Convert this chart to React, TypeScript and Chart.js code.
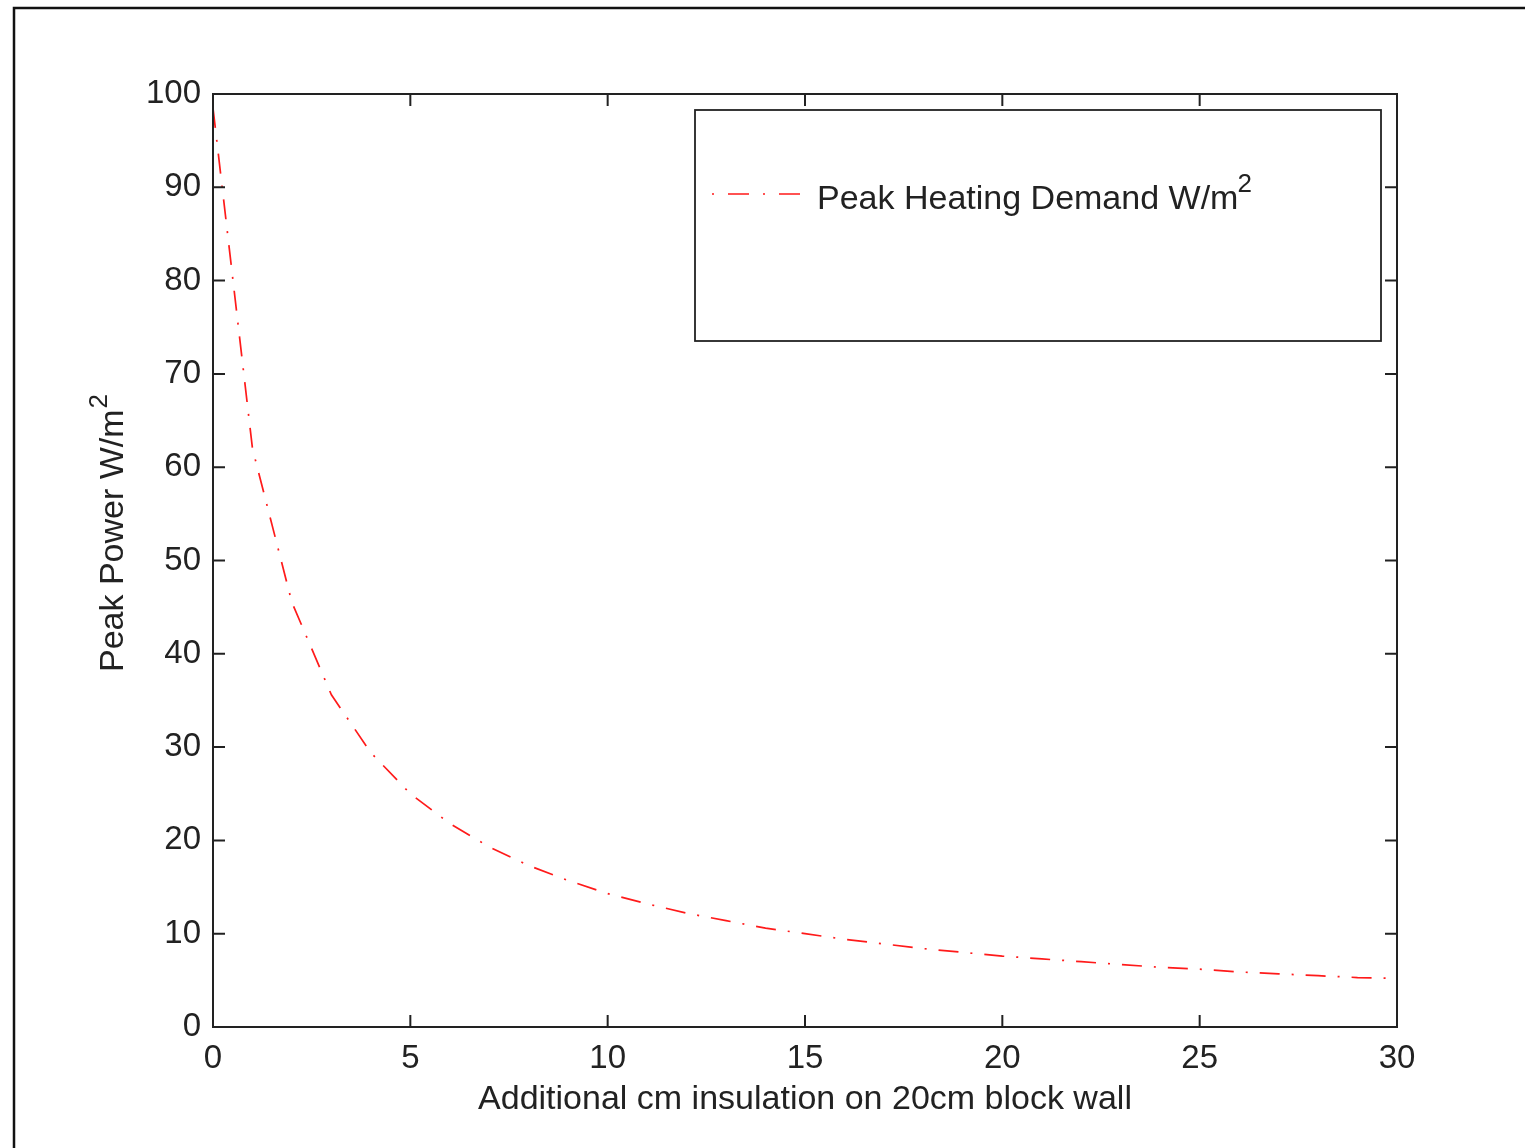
import React, { useEffect, useRef } from "react";
import { Chart, registerables } from "chart.js";

Chart.register(...registerables);

// ---- data ----
const insulationCm = [0, 1, 2, 3, 4, 5, 6, 7, 8, 9, 10, 11, 12, 13, 14, 15, 16, 17, 18, 19, 20, 21, 22, 23, 24, 25, 26, 27, 28, 29, 30];
const peakHeatingDemand = [98.5, 62, 45.5, 35.6, 29.4, 25, 21.8, 19.3, 17.3, 15.7, 14.3, 13.2, 12.2, 11.4, 10.6, 10.0, 9.4, 8.9, 8.4, 8.0, 7.6, 7.3, 7.0, 6.7, 6.4, 6.2, 5.9, 5.7, 5.5, 5.3, 5.2];
const xTicks = [0, 5, 10, 15, 20, 25, 30];
const yTicks = [0, 10, 20, 30, 40, 50, 60, 70, 80, 90, 100];
const xAxisTitle = "Additional cm insulation on 20cm block wall";
const yAxisTitle = "Peak Power W/m";
const legendLabel = "Peak Heating Demand W/m";
const superscript = "2";

const FONT = '"Liberation Sans", Arial, Helvetica, sans-serif';
const INK = "#222222";
const RED = "#ff1a1a";

const decorPlugin = {
  id: "matlabDecor",
  afterDraw(chart: any) {
    const ctx = chart.ctx as CanvasRenderingContext2D;
    const xs = chart.scales.x;
    const ys = chart.scales.y;
    const { left, right, top, bottom } = chart.chartArea;
    ctx.save();

    // outer figure frame
    ctx.strokeStyle = "#111111";
    ctx.lineWidth = 2.5;
    ctx.beginPath();
    ctx.moveTo(14, chart.height);
    ctx.lineTo(14, 8);
    ctx.lineTo(chart.width, 8);
    ctx.stroke();

    // axes box
    ctx.strokeStyle = INK;
    ctx.lineWidth = 2;
    ctx.strokeRect(left, top, right - left, bottom - top);

    // inward ticks
    const tl = 12;
    ctx.beginPath();
    xTicks.forEach((v) => {
      const px = xs.getPixelForValue(v);
      ctx.moveTo(px, bottom);
      ctx.lineTo(px, bottom - tl);
      ctx.moveTo(px, top);
      ctx.lineTo(px, top + tl);
    });
    yTicks.forEach((v) => {
      const py = ys.getPixelForValue(v);
      ctx.moveTo(left, py);
      ctx.lineTo(left + tl, py);
      ctx.moveTo(right, py);
      ctx.lineTo(right - tl, py);
    });
    ctx.stroke();

    // legend box
    ctx.lineWidth = 1.8;
    ctx.strokeStyle = INK;
    ctx.strokeRect(695, 110, 1381 - 695, 341 - 110);

    // legend line sample
    ctx.strokeStyle = RED;
    ctx.lineWidth = 1.7;
    ctx.setLineDash([2, 14, 21, 14]);
    ctx.beginPath();
    ctx.moveTo(712, 194);
    ctx.lineTo(800, 194);
    ctx.stroke();
    ctx.setLineDash([]);

    // legend text
    ctx.fillStyle = INK;
    ctx.textAlign = "left";
    ctx.textBaseline = "alphabetic";
    ctx.font = `34px ${FONT}`;
    ctx.fillText(legendLabel, 817, 209);
    const lw = ctx.measureText(legendLabel).width;
    ctx.font = `26px ${FONT}`;
    ctx.fillText(superscript, 817 + lw - 1, 192);

    // x axis title
    ctx.font = `34px ${FONT}`;
    ctx.textAlign = "center";
    ctx.fillText(xAxisTitle, (left + right) / 2, 1109);

    // y axis title (rotated)
    ctx.translate(123, 672);
    ctx.rotate(-Math.PI / 2);
    ctx.textAlign = "left";
    ctx.font = `34px ${FONT}`;
    ctx.fillText(yAxisTitle, 0, 0);
    const yw = ctx.measureText(yAxisTitle).width;
    ctx.font = `26px ${FONT}`;
    ctx.fillText(superscript, yw + 1, -16);

    ctx.restore();
  },
};

export default function App() {
  const canvasRef = useRef<HTMLCanvasElement | null>(null);

  useEffect(() => {
    document.body.style.margin = "0";
    const canvas = canvasRef.current;
    if (!canvas) return;
    const chart = new Chart(canvas, {
      type: "line",
      data: {
        datasets: [
          {
            label: legendLabel + superscript,
            data: insulationCm.map((x, i) => ({ x, y: peakHeatingDemand[i] })),
            borderColor: RED,
            borderWidth: 1.7,
            borderDash: [20, 12, 2, 12],
            pointRadius: 0,
            tension: 0,
            fill: false,
          },
        ],
      },
      options: {
        animation: false,
        responsive: false,
        devicePixelRatio: 1,
        layout: { padding: { top: 94, right: 128, bottom: 0, left: 0 } },
        plugins: { legend: { display: false }, tooltip: { enabled: false } },
        scales: {
          x: {
            type: "linear",
            min: 0,
            max: 30,
            grid: { display: false, drawTicks: false },
            border: { display: false },
            ticks: {
              color: INK,
              padding: 12,
              maxRotation: 0,
              font: { family: FONT, size: 33 },
            },
            afterBuildTicks: (s: any) => {
              s.ticks = xTicks.map((v) => ({ value: v }));
            },
            afterFit: (s: any) => {
              s.height = 121;
            },
          },
          y: {
            type: "linear",
            min: 0,
            max: 100,
            grid: { display: false, drawTicks: false },
            border: { display: false },
            ticks: {
              color: INK,
              padding: 12,
              font: { family: FONT, size: 33 },
            },
            afterBuildTicks: (s: any) => {
              s.ticks = yTicks.map((v) => ({ value: v }));
            },
            afterFit: (s: any) => {
              s.width = 213;
            },
          },
        },
      },
      plugins: [decorPlugin],
    } as any);
    return () => chart.destroy();
  }, []);

  return (
    <div style={{ width: 1525, height: 1148, background: "#ffffff" }}>
      <canvas ref={canvasRef} width={1525} height={1148} style={{ display: "block" }} />
    </div>
  );
}
